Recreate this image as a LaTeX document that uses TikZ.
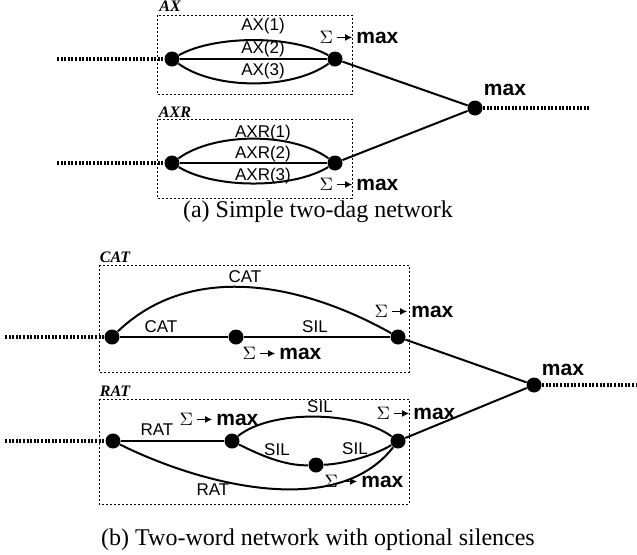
\documentclass[tikz,border=0pt]{standalone}
\usepackage{fontspec}
\setmainfont{Liberation Serif}
\setsansfont{Liberation Sans}
\usetikzlibrary{arrows.meta}

\newcommand{\summax}{{\fontsize{9.5}{12}\selectfont$\Sigma$}\,\tikz[baseline]\draw[-{Latex[length=3.5pt,width=3.5pt]},line width=0.7pt] (0pt,2.8pt) -- (7.5pt,2.8pt);\,\textbf{max}}

\begin{document}
\begin{tikzpicture}[x=0.5pt, y=-0.5pt,
    dot/.style={circle, fill=black, inner sep=0pt, minimum size=7.5pt},
    arc/.style={line width=1pt},
    lead/.style={line width=1.6pt, dash pattern=on 1pt off 0.8pt},
    dagbox/.style={line width=0.5pt, dash pattern=on 1pt off 1pt},
    lbl/.style={font=\fontsize{8.5}{10}\sffamily},
    boxlbl/.style={font=\fontsize{8}{10}\selectfont\bfseries\itshape},
    captext/.style={font=\fontsize{12}{14}\selectfont},
    sm/.style={font=\fontsize{10.5}{12}\sffamily}]
    \useasboundingbox (0,0) rectangle (637,554);

    % Dag boxes
    \draw[dagbox] (157,15) rectangle (352,94);
    \draw[dagbox] (157,119) rectangle (352,198);
    \draw[dagbox] (99,265) rectangle (409,372);
    \draw[dagbox] (99,399) rectangle (409,504);
    \node[boxlbl] at (170,6) {AX};
    \node[boxlbl] at (175,112) {AXR};
    \node[boxlbl] at (115,257) {CAT};
    \node[boxlbl] at (115,391) {RAT};

    % (a) nodes
    \node[dot] (ax1) at (172,59) {};
    \node[dot] (ax2) at (335,59) {};
    \node[dot] (axr1) at (172,163) {};
    \node[dot] (axr2) at (335,163) {};
    \node[dot] (maxa) at (475,108) {};
    \coordinate (inax) at (57,59);
    \coordinate (inaxr) at (57,163);
    \coordinate (outa) at (589,108);

    % (a) arcs
    \draw[lead] (inax) -- (ax1);
    \draw[lead] (inaxr) -- (axr1);
    \draw[lead] (maxa) -- (outa);
    \draw[arc] (ax1) .. controls (215,35) and (292,35) .. (ax2);
    \draw[arc] (ax1) -- (ax2);
    \draw[arc] (ax1) .. controls (215,90) and (292,90) .. (ax2);
    \draw[arc] (axr1) .. controls (215,132) and (292,132) .. (axr2);
    \draw[arc] (axr1) -- (axr2);
    \draw[arc] (axr1) .. controls (215,189) and (292,189) .. (axr2);
    \draw[arc] (ax2) -- (maxa);
    \draw[arc] (axr2) -- (maxa);

    % (a) labels
    \node[lbl] at (263,26) {AX(1)};
    \node[lbl] at (263,49) {AX(2)};
    \node[lbl] at (263,71) {AX(3)};
    \node[lbl] at (263,133) {AXR(1)};
    \node[lbl] at (263,154) {AXR(2)};
    \node[lbl] at (263,176) {AXR(3)};
    \node[sm] at (359,37) {\summax};
    \node[sm] at (359,184) {\summax};
    \node[sm, font=\fontsize{10.5}{12}\sffamily\bfseries] at (505,90) {max};
    \node[captext] at (318,212) {(a) Simple two-dag network};

    % (b) nodes
    \node[dot] (cat1) at (112,337) {};
    \node[dot] (cat2) at (236,337) {};
    \node[dot] (cat3) at (398,337) {};
    \node[dot] (rat1) at (113,441) {};
    \node[dot] (rat2) at (232,441) {};
    \node[dot] (rat3) at (316,465) {};
    \node[dot] (rat4) at (398,441) {};
    \node[dot] (maxb) at (534,385) {};
    \coordinate (incat) at (5,337);
    \coordinate (inrat) at (5,441);
    \coordinate (outb) at (636,385);

    % (b) arcs
    \draw[lead] (incat) -- (cat1);
    \draw[lead] (inrat) -- (rat1);
    \draw[lead] (maxb) -- (outb);
    \draw[arc] (cat1) .. controls (190,262) and (300,282) .. (cat3);
    \draw[arc] (cat1) -- (cat2) -- (cat3);
    \draw[arc] (rat1) -- (rat2);
    \draw[arc] (rat2) .. controls (270,410) and (355,410) .. (rat4);
    \draw[arc] (rat2) .. controls (260,455) and (285,466) .. (rat3);
    \draw[arc] (rat3) .. controls (345,464) and (375,455) .. (rat4);
    \draw[arc] (rat1) .. controls (195,482) and (335,522) .. (rat4);
    \draw[arc] (cat3) -- (maxb);
    \draw[arc] (rat4) -- (maxb);

    % (b) labels
    \node[lbl] at (245,277) {CAT};
    \node[lbl] at (161,327) {CAT};
    \node[lbl] at (315,327) {SIL};
    \node[sm] at (282,353) {\summax};
    \node[sm] at (414,311) {\summax};
    \node[sm, font=\fontsize{10.5}{12}\sffamily\bfseries] at (563,370) {max};
    \node[lbl] at (157,430) {RAT};
    \node[sm] at (219,419) {\summax};
    \node[lbl] at (320,407) {SIL};
    \node[sm] at (416,413) {\summax};
    \node[lbl] at (277,450) {SIL};
    \node[lbl] at (355,449) {SIL};
    \node[lbl] at (213,490) {RAT};
    \node[sm] at (364,481) {\summax};
    \node[captext] at (318,540) {(b) Two-word network with optional silences};
\end{tikzpicture}
\end{document}
